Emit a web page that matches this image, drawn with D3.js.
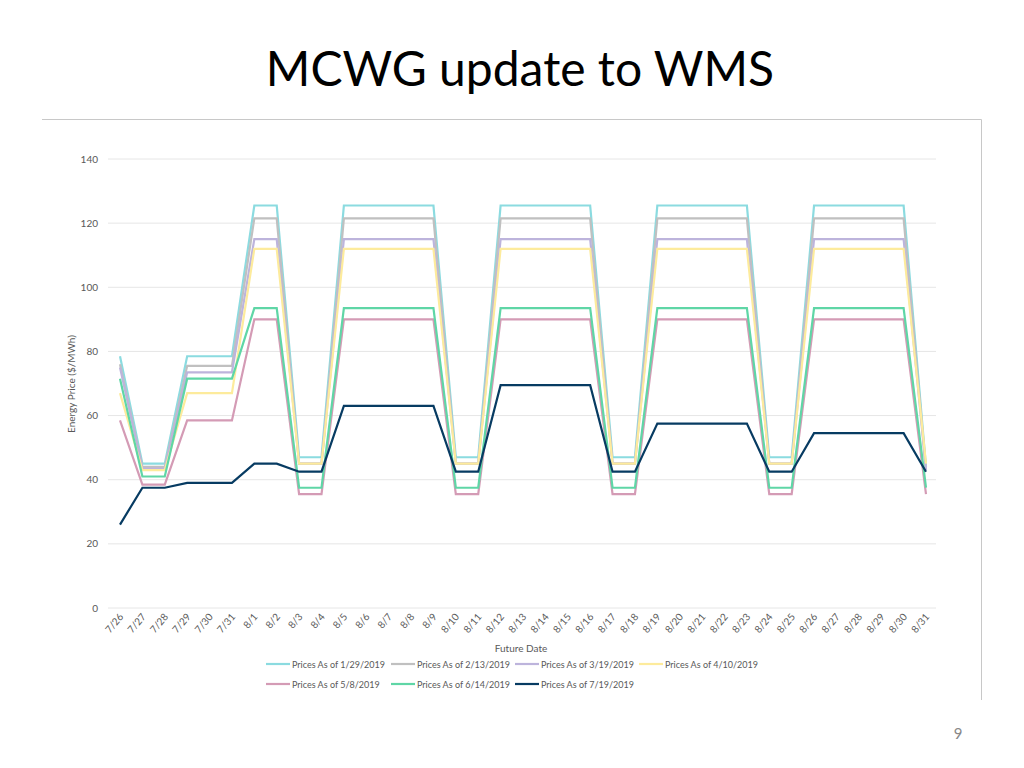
<!DOCTYPE html>
<html><head><meta charset="utf-8">
<script src="https://cdn.jsdelivr.net/npm/d3@7"></script>
<style>body{margin:0;background:#fff;font-family:Lato,"Open Sans",sans-serif}</style>
</head><body><svg id="c" width="1024" height="768"></svg>
<script>
const dates=["7/26","7/27","7/28","7/29","7/30","7/31","8/1","8/2","8/3","8/4","8/5","8/6","8/7","8/8","8/9","8/10","8/11","8/12","8/13","8/14","8/15","8/16","8/17","8/18","8/19","8/20","8/21","8/22","8/23","8/24","8/25","8/26","8/27","8/28","8/29","8/30","8/31"];
const names=["Prices As of 1/29/2019","Prices As of 2/13/2019","Prices As of 3/19/2019","Prices As of 4/10/2019","Prices As of 5/8/2019","Prices As of 6/14/2019","Prices As of 7/19/2019"];
const colors=["#8bdbe0","#c0c0c0","#bdb4dc","#fdeb9c","#d49bb5","#5fd6a6","#073b62"];
const s1=[78.5,45,45,78.5,78.5,78.5,125.5,125.5,47,47,125.5,125.5,125.5,125.5,125.5,47,47,125.5,125.5,125.5,125.5,125.5,47,47,125.5,125.5,125.5,125.5,125.5,47,47,125.5,125.5,125.5,125.5,125.5,44];
const s2=[76,44,44,75.5,75.5,75.5,121.5,121.5,45,45,121.5,121.5,121.5,121.5,121.5,45,45,121.5,121.5,121.5,121.5,121.5,45,45,121.5,121.5,121.5,121.5,121.5,45,45,121.5,121.5,121.5,121.5,121.5,43];
const s3=[75,43.5,43.5,73.5,73.5,73.5,115,115,45,45,115,115,115,115,115,45,45,115,115,115,115,115,45,45,115,115,115,115,115,45,45,115,115,115,115,115,43];
const s4=[67,43,43,67,67,67,112,112,45,45,112,112,112,112,112,45,45,112,112,112,112,112,45,45,112,112,112,112,112,45,45,112,112,112,112,112,45];
const s5=[58.5,38.5,38.5,58.5,58.5,58.5,90,90,35.5,35.5,90,90,90,90,90,35.5,35.5,90,90,90,90,90,35.5,35.5,90,90,90,90,90,35.5,35.5,90,90,90,90,90,35.5];
const s6=[71.5,41,41,71.5,71.5,71.5,93.5,93.5,37.5,37.5,93.5,93.5,93.5,93.5,93.5,37.5,37.5,93.5,93.5,93.5,93.5,93.5,37.5,37.5,93.5,93.5,93.5,93.5,93.5,37.5,37.5,93.5,93.5,93.5,93.5,93.5,37.5];
const s7=[26,37.5,37.5,39,39,39,45,45,42.5,42.5,63,63,63,63,63,42.5,42.5,69.5,69.5,69.5,69.5,69.5,42.5,42.5,57.5,57.5,57.5,57.5,57.5,42.5,42.5,54.5,54.5,54.5,54.5,54.5,42.5];
const series=[s1,s2,s3,s4,s5,s6,s7];
const yTicks=[0,20,40,60,80,100,120,140];

const svg=d3.select("#c");
svg.append("text").attr("x",520).attr("y",86).attr("text-anchor","middle").attr("font-size",48).attr("fill","#000").text("MCWG update to WMS");
svg.append("path").attr("d","M42,119.5H981.5V700").attr("fill","none").attr("stroke","#c8c8c8");
svg.append("text").attr("x",958).attr("y",739).attr("text-anchor","middle").attr("font-size",15).attr("fill","#888").text("9");

const x=d3.scalePoint().domain(dates).range([120,926]);
const y=d3.scaleLinear().domain([0,140]).range([608,159]);
const g=svg.append("g");
yTicks.forEach(t=>{
  g.append("line").attr("x1",108).attr("x2",936).attr("y1",y(t)).attr("y2",y(t)).attr("stroke","#e6e6e6");
  g.append("text").attr("x",98).attr("y",y(t)+3.5).attr("text-anchor","end").attr("font-size",10).attr("fill","#595959").text(t);
});
dates.forEach(d=>{
  g.append("text").attr("transform",`translate(${x(d)+4},${617}) rotate(-50)`).attr("text-anchor","end").attr("font-size",10).attr("fill","#595959").text(d);
});
g.append("text").attr("transform","translate(75,384) rotate(-90)").attr("text-anchor","middle").attr("font-size",10).attr("fill","#595959").text("Energy Price ($/MWh)");
g.append("text").attr("x",521).attr("y",652).attr("text-anchor","middle").attr("font-size",10).attr("fill","#595959").text("Future Date");
const line=d3.line().x((d,i)=>x(dates[i])).y(d=>y(d));
series.forEach((s,k)=>{
  g.append("path").attr("d",line(s)).attr("fill","none").attr("stroke",colors[k]).attr("stroke-width",2.2);
});
const lx=[266,391,515,639,266,391,515], ly=[664,664,664,664,684,684,684];
names.forEach((n,k)=>{
  g.append("line").attr("x1",lx[k]).attr("x2",lx[k]+24).attr("y1",ly[k]).attr("y2",ly[k]).attr("stroke",colors[k]).attr("stroke-width",2.2);
  g.append("text").attr("x",lx[k]+26).attr("y",ly[k]+3.5).attr("font-size",9).attr("fill","#595959").text(n);
});
</script></body></html>
